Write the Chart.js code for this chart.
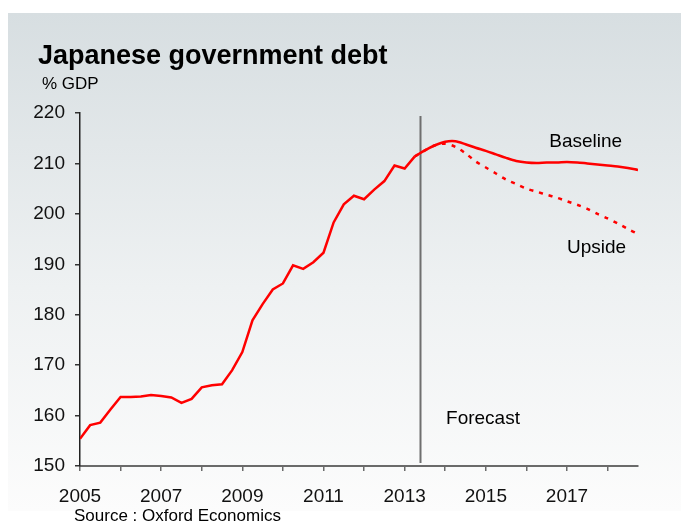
<!DOCTYPE html>
<html>
<head>
<meta charset="utf-8">
<script src="https://cdn.jsdelivr.net/npm/chart.js@4/dist/chart.umd.min.js"></script>
<style>
html,body{margin:0;padding:0;background:#ffffff;width:681px;height:523px;overflow:hidden;font-family:"Liberation Sans",Arial,Helvetica,sans-serif;}
#panel{position:absolute;left:8px;top:13px;width:673px;height:498px;background:linear-gradient(to bottom,#d7dee1 0%,#eef1f2 55%,#fcfcfc 100%);}
#wrap{position:absolute;left:0;top:0;width:681px;height:523px;}
.t{position:absolute;white-space:nowrap;color:#000;}
</style>
</head>
<body>
<div id="panel"></div>
<div id="wrap"><canvas id="c" width="681" height="523"></canvas></div>
<div class="t" style="left:38px;top:42px;font-size:27px;line-height:27px;font-weight:bold;">Japanese government debt</div>
<div class="t" style="left:42px;top:75px;font-size:17px;line-height:17px;">% GDP</div>
<div class="t" style="left:74px;top:507px;font-size:17px;line-height:17px;">Source : Oxford Economics</div>
<script>
// Quarterly categories
const actualQuarters = [
  '2005Q1','2005Q2','2005Q3','2005Q4','2006Q1','2006Q2','2006Q3','2006Q4',
  '2007Q1','2007Q2','2007Q3','2007Q4','2008Q1','2008Q2','2008Q3','2008Q4',
  '2009Q1','2009Q2','2009Q3','2009Q4','2010Q1','2010Q2','2010Q3','2010Q4',
  '2011Q1','2011Q2','2011Q3','2011Q4','2012Q1','2012Q2','2012Q3','2012Q4',
  '2013Q1','2013Q2'
];
const actualDebt = [
  155.4, 158.1, 158.6, 161.2, 163.7, 163.7, 163.8, 164.1,
  163.9, 163.6, 162.5, 163.3, 165.6, 166.0, 166.2, 169.0,
  172.6, 178.9, 182.1, 185.0, 186.2, 189.8, 189.1, 190.4,
  192.3, 198.3, 201.9, 203.6, 202.9, 204.8, 206.5, 209.6,
  209.0, 211.4
];
const forecastQuarters = [
  '2013Q2','2013Q3','2013Q4','2014Q1','2014Q2','2014Q3','2014Q4',
  '2015Q1','2015Q2','2015Q3','2015Q4','2016Q1','2016Q2','2016Q3','2016Q4',
  '2017Q1','2017Q2','2017Q3','2017Q4','2018Q1','2018Q2','2018Q3','2018Q4'
];
const baselineDebt = [
  211.4, 212.6, 213.6, 214.3, 214.4, 213.8, 213.1,
  212.5, 211.8, 211.1, 210.5, 210.2, 210.1, 210.2, 210.2,
  210.3, 210.2, 210.0, 209.8, 209.6, 209.4, 209.1, 208.7
];
const upsideDebt = [
  211.4, 212.6, 213.6, 213.9, 213.3, 212.0, 210.4,
  209.2, 208.0, 206.8, 205.9, 205.0, 204.4, 203.8, 203.2,
  202.5, 201.8, 201.0, 200.0, 199.1, 198.1, 197.0, 196.0
];
const yTicks = [150, 160, 170, 180, 190, 200, 210, 220];
const xTickYears = [2005, 2007, 2009, 2011, 2013, 2015, 2017];
const forecastStart = 2013.375;

function qToX(q) { return parseInt(q.slice(0, 4), 10) + (parseInt(q.slice(5), 10) - 1) / 4; }
function pts(qs, vals) { return qs.map((q, i) => ({ x: qToX(q), y: vals[i] })); }

const FONT = '"Liberation Sans", Arial, Helvetica, sans-serif';

const annot = {
  id: 'annot',
  beforeDatasetsDraw(chart) {
    const { ctx, scales: { x, y } } = chart;
    const px = Math.round(x.getPixelForValue(forecastStart)) + 0.5;
    ctx.save();
    ctx.strokeStyle = '#6f6f6f';
    ctx.lineWidth = 2;
    ctx.beginPath();
    ctx.moveTo(px, y.top + 3);
    ctx.lineTo(px, y.bottom - 3);
    ctx.stroke();
    ctx.restore();
  },
  afterDatasetsDraw(chart) {
    const { ctx, scales: { x, y } } = chart;
    ctx.save();
    ctx.fillStyle = '#000';
    ctx.font = '19px ' + FONT;
    ctx.textAlign = 'center';
    ctx.textBaseline = 'middle';
    ctx.fillText('Baseline', x.getPixelForValue(2017.46), y.getPixelForValue(214.2));
    ctx.fillText('Upside', x.getPixelForValue(2017.73), y.getPixelForValue(193.2));
    ctx.fillText('Forecast', x.getPixelForValue(2014.93), y.getPixelForValue(159.3));
    ctx.restore();
  }
};

new Chart(document.getElementById('c'), {
  type: 'line',
  data: {
    datasets: [
      { label: 'Upside', data: pts(forecastQuarters, upsideDebt), borderColor: '#ff0000', borderWidth: 2.5, borderDash: [4, 6], pointRadius: 0, tension: 0.3, fill: false },
      { label: 'Baseline', data: pts(forecastQuarters, baselineDebt), borderColor: '#ff0000', borderWidth: 2.5, pointRadius: 0, tension: 0.3, fill: false },
      { label: 'Actual', data: pts(actualQuarters, actualDebt), borderColor: '#ff0000', borderWidth: 2.5, pointRadius: 0, tension: 0, fill: false }
    ]
  },
  options: {
    responsive: false,
    animation: false,
    devicePixelRatio: 1,
    layout: { padding: { top: 113, right: 43, bottom: 0, left: 0 } },
    plugins: { legend: { display: false }, tooltip: { enabled: false }, title: { display: false } },
    scales: {
      x: {
        type: 'linear', min: 2005, max: 2018.75,
        afterFit(s) { s.height = 57; },
        grid: { drawOnChartArea: false, drawTicks: true, tickLength: 5, color: '#6a6a6a', tickColor: '#6a6a6a', lineWidth: 1.5 },
        border: { color: '#6a6a6a', width: 2 },
        ticks: {
          stepSize: 1, autoSkip: false, includeBounds: false, maxRotation: 0, padding: 14,
          color: '#111', font: { family: FONT, size: 19 },
          callback: v => (xTickYears.includes(v) ? String(v) : '')
        }
      },
      y: {
        min: yTicks[0], max: yTicks[yTicks.length - 1],
        afterFit(s) { s.width = 80; },
        afterBuildTicks(s) { s.ticks = yTicks.map(v => ({ value: v })); },
        grid: { drawOnChartArea: false, drawTicks: true, tickLength: 5, color: '#222', tickColor: '#333', lineWidth: 1.5 },
        border: { color: '#222', width: 1.5 },
        ticks: { padding: 10, color: '#111', font: { family: FONT, size: 19 } }
      }
    }
  },
  plugins: [annot]
});
</script>
</body>
</html>
